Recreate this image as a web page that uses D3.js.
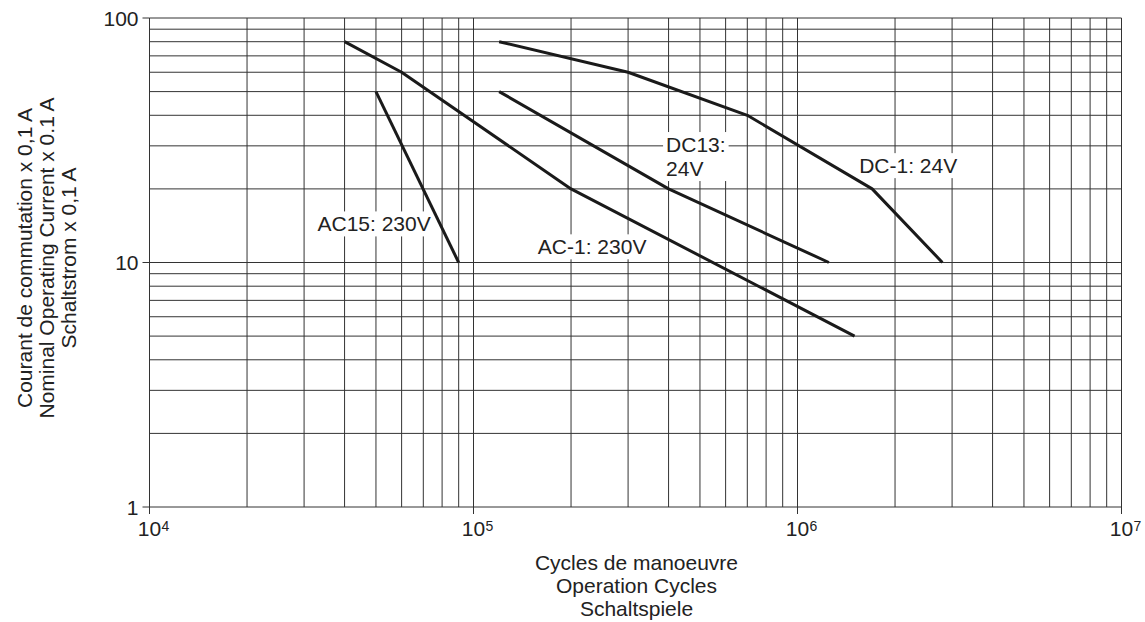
<!DOCTYPE html>
<meta charset="utf-8">
<html>
  <head>
    <script src="https://d3js.org/d3.v7.min.js"></script>
    <style>
      body { margin: 0; background: #fff; }
      text { font-family: "Liberation Sans", Arial, Helvetica, sans-serif; fill: #222; }
    </style>
  </head>
  <body>
    <div id="chart"></div>
    <script type="text/javascript">

      // --- data (cycles, current x 0.1 A) ---
      var ac15 = [[5e4, 50], [9e4, 10]];
      var ac1 = [[4e4, 80], [6e4, 60], [2e5, 20], [1.5e6, 5]];
      var dc13 = [[1.2e5, 50], [4e5, 20], [1.25e6, 10]];
      var dc1 = [[1.2e5, 80], [3e5, 60], [7e5, 40], [1.7e6, 20], [2.8e6, 10]];

      var xDecades = [1e4, 1e5, 1e6, 1e7];
      var xExponents = ["4", "5", "6", "7"];
      var yDecades = [1, 10, 100];
      var yTickLabels = ["1", "10", "100"];

      // curve labels, anchored in data units
      var labels = [
        {lines: ["AC15: 230V"], x: 3.3e4, y: 13.4},
        {lines: ["AC-1: 230V"], x: 1.58e5, y: 10.8},
        {lines: ["DC13:", "24V"], x: 3.93e5, y: 28.3},
        {lines: ["DC-1: 24V"], x: 1.55e6, y: 23.2}
      ];

      var yTitle = ["Courant de commutation x 0,1 A", "Nominal Operating Current x 0.1 A", "Schaltstrom x 0,1 A"];
      var xTitle = ["Cycles de manoeuvre", "Operation Cycles", "Schaltspiele"];

      var width = 1145, height = 622;
      var plotLeft = 149.5, plotRight = 1121.5, plotTop = 18, plotBottom = 507;
      var fontSize = 21;

      var svg = d3.select("#chart").append("svg")
          .attr("width", width)
          .attr("height", height);

      var x = d3.scaleLog().domain([1e4, 1e7]).range([plotLeft, plotRight]);
      var y = d3.scaleLog().domain([1, 100]).range([plotBottom, plotTop]);

      // --- grid ---
      var grid = svg.append("g").attr("stroke", "#333").attr("stroke-width", 1);

      grid.selectAll("line.v")
        .data(x.ticks())
        .enter().append("line")
          .attr("class", "v")
          .attr("x1", function(d) { return x(d); })
          .attr("x2", function(d) { return x(d); })
          .attr("y1", plotTop)
          .attr("y2", plotBottom);

      grid.selectAll("line.h")
        .data(y.ticks())
        .enter().append("line")
          .attr("class", "h")
          .attr("y1", function(d) { return y(d); })
          .attr("y2", function(d) { return y(d); })
          .attr("x1", plotLeft)
          .attr("x2", plotRight);

      // decade ticks sticking out of the frame
      grid.selectAll("line.xt")
        .data(xDecades)
        .enter().append("line")
          .attr("class", "xt")
          .attr("x1", function(d) { return x(d); })
          .attr("x2", function(d) { return x(d); })
          .attr("y1", plotBottom)
          .attr("y2", plotBottom + 7);

      grid.selectAll("line.yt")
        .data(yDecades)
        .enter().append("line")
          .attr("class", "yt")
          .attr("y1", function(d) { return y(d); })
          .attr("y2", function(d) { return y(d); })
          .attr("x1", plotLeft - 7)
          .attr("x2", plotLeft);

      // --- tick labels ---
      svg.selectAll("text.ylab")
        .data(yDecades)
        .enter().append("text")
          .attr("class", "ylab")
          .attr("x", plotLeft - 11)
          .attr("y", function(d) { return y(d); })
          .attr("dy", "0.36em")
          .attr("text-anchor", "end")
          .style("font-size", fontSize + "px")
          .text(function(d, i) { return yTickLabels[i]; });

      var xl = svg.selectAll("g.xlab")
        .data(xDecades)
        .enter().append("g")
          .attr("class", "xlab");

      xl.append("text")
          .attr("x", function(d) { return x(d); })
          .attr("y", 536)
          .attr("text-anchor", "middle")
          .style("font-size", fontSize + "px")
          .text("10");

      xl.append("text")
          .attr("x", function(d) { return x(d) + 12; })
          .attr("y", 531)
          .style("font-size", "14px")
          .text(function(d, i) { return xExponents[i]; });

      // --- label backgrounds + labels (drawn before curves so curves stay on top) ---
      var labG = svg.append("g");
      labels.forEach(function(l) {
        var g = labG.append("g");
        var t = g.append("text")
          .attr("x", x(l.x))
          .attr("y", y(l.y))
          .style("font-size", fontSize + "px");
        t.selectAll("tspan")
          .data(l.lines)
          .enter().append("tspan")
            .attr("x", x(l.x))
            .attr("dy", function(d, i) { return i == 0 ? 0 : 24; })
            .text(function(d) { return d; });
        var bb = t.node().getBBox();
        g.insert("rect", "text")
          .attr("x", bb.x - 3)
          .attr("y", bb.y - 1)
          .attr("width", bb.width + 6)
          .attr("height", bb.height + 2)
          .attr("fill", "#fff");
      });

      // --- curves ---
      var line = d3.line()
          .x(function(d) { return x(d[0]); })
          .y(function(d) { return y(d[1]); });

      svg.append("g")
        .selectAll("path")
        .data([ac15, ac1, dc13, dc1])
        .enter().append("path")
          .attr("d", line)
          .attr("fill", "none")
          .attr("stroke", "#1a1a1a")
          .attr("stroke-width", 3)
          .attr("stroke-linejoin", "round");

      // --- axis titles ---
      svg.append("text")
          .attr("text-anchor", "middle")
          .attr("transform", "translate(32,258) rotate(-90)")
          .style("font-size", fontSize + "px")
          .selectAll("tspan")
          .data(yTitle)
          .enter().append("tspan")
            .attr("x", 0)
            .attr("y", function(d, i) { return i * 22; })
            .text(function(d) { return d; });

      svg.append("text")
          .attr("text-anchor", "middle")
          .style("font-size", fontSize + "px")
          .selectAll("tspan")
          .data(xTitle)
          .enter().append("tspan")
            .attr("x", (plotLeft + plotRight) / 2 + 1)
            .attr("y", function(d, i) { return 570 + i * 23; })
            .text(function(d) { return d; });
    </script>
  </body>
</html>
